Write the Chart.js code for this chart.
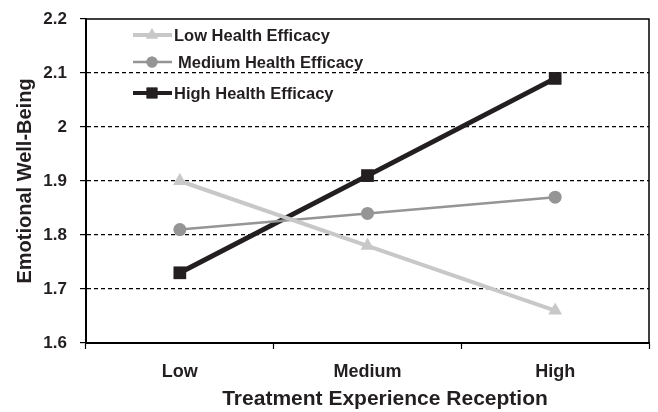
<!DOCTYPE html>
<html><head><meta charset="utf-8">
<script src="https://cdn.jsdelivr.net/npm/chart.js@4/dist/chart.umd.min.js"></script>
<style>html,body{margin:0;padding:0;background:#fff}#wrap{width:658px;height:412px}</style>
</head><body><div id="wrap"><canvas id="c" width="658" height="412"></canvas></div>
<script>
const categories = ['Low', 'Medium', 'High'];
const lowEfficacy = [1.90, 1.78, 1.66];
const mediumEfficacy = [1.81, 1.84, 1.87];
const highEfficacy = [1.73, 1.91, 2.09];
const seriesNames = ['Low Health Efficacy', 'Medium Health Efficacy', 'High Health Efficacy'];
const yTicks = [1.6, 1.7, 1.8, 1.9, 2.0, 2.1, 2.2];
const xTitle = 'Treatment Experience Reception';

const FONT = '"Liberation Sans", Arial, sans-serif';
const legendRows = [35, 62, 93];
const legendPlugin = {
  id: 'insideLegend',
  afterDatasetsDraw(chart) {
    const ctx = chart.ctx;
    const ca = chart.chartArea;
    ctx.save();
    ctx.strokeStyle = '#000'; ctx.lineWidth = 1.5; ctx.setLineDash([]);
    ctx.beginPath();
    ctx.moveTo(ca.left, ca.top); ctx.lineTo(ca.right, ca.top); ctx.lineTo(ca.right, ca.bottom);
    ctx.stroke();
    chart.data.datasets.forEach((ds, i) => {
      const y = legendRows[i];
      ctx.strokeStyle = ds.borderColor; ctx.lineWidth = Math.min(ds.borderWidth, 4);
      ctx.beginPath(); ctx.moveTo(133, y); ctx.lineTo(172, y); ctx.stroke();
      ctx.fillStyle = ds.pointBackgroundColor;
      Chart.helpers.drawPoint(ctx, {pointStyle: ds.pointStyle, radius: ds.pointRadius * 0.85, borderWidth: 0, rotation: 0}, 152, y);
      ctx.fill();
      ctx.fillStyle = '#231f20';
      ctx.font = 'bold 16.5px ' + FONT;
      ctx.textBaseline = 'middle'; ctx.textAlign = 'left';
      ctx.fillText(ds.label, i === 1 ? 178 : 174, y + 1);
    });
    ctx.font = 'bold 21px ' + FONT;
    ctx.textAlign = 'center'; ctx.textBaseline = 'middle';
    ctx.fillText(xTitle, 385, 399);
    ctx.restore();
  }
};

new Chart(document.getElementById('c'), {
  type: 'line',
  data: {
    labels: categories,
    datasets: [
      {label: seriesNames[0], data: lowEfficacy, borderColor: '#c8c8c8', backgroundColor: '#c8c8c8', pointBackgroundColor: '#c8c8c8', pointBorderColor: '#c8c8c8', borderWidth: 4, pointStyle: 'triangle', pointRadius: 8, pointBorderWidth: 0},
      {label: seriesNames[1], data: mediumEfficacy, borderColor: '#959595', backgroundColor: '#959595', pointBackgroundColor: '#959595', pointBorderColor: '#959595', borderWidth: 2.5, pointStyle: 'circle', pointRadius: 6.5, pointBorderWidth: 0},
      {label: seriesNames[2], data: highEfficacy, borderColor: '#231f20', backgroundColor: '#231f20', pointBackgroundColor: '#231f20', pointBorderColor: '#231f20', borderWidth: 5, pointStyle: 'rect', pointRadius: 9, pointBorderWidth: 0}
    ]
  },
  options: {
    responsive: false,
    animation: false,
    layout: {padding: {top: 19, right: 7, left: 0, bottom: 0}},
    plugins: {legend: {display: false}, tooltip: {enabled: false}},
    scales: {
      x: {
        offset: true,
        grid: {display: true, offset: true, drawOnChartArea: false, drawTicks: true, tickLength: 6, tickColor: '#000', tickWidth: 1.2},
        border: {display: true, color: '#000', width: 2},
        ticks: {color: '#231f20', padding: 12, font: {family: FONT, size: 18, weight: 'bold'}},
        title: {display: false},
        afterFit(s) { s.height = 69; }
      },
      y: {
        min: 1.6, max: 2.2,
        afterBuildTicks(s) { s.ticks = yTicks.map(v => ({value: v})); },
        grid: {
          color: (c) => (c.tick && (c.tick.value === 2.2 || c.tick.value === 1.6)) ? 'rgba(0,0,0,0)' : '#000',
          lineWidth: 1.2, tickColor: '#000', tickLength: 6, tickWidth: 1.2
        },
        border: {display: true, color: '#000', width: 2, dash: [4, 3]},
        ticks: {color: '#231f20', padding: 13, callback: (v) => String(Math.round(v * 10) / 10), font: {family: FONT, size: 17, weight: 'bold', lineHeight: 0.6}},
        title: {display: true, text: 'Emotional Well-Being', color: '#231f20', padding: {top: 13, bottom: 0}, font: {family: FONT, size: 20, weight: 'bold'}},
        afterFit(s) { s.width = 86; }
      }
    }
  },
  plugins: [legendPlugin]
});
</script></body></html>
